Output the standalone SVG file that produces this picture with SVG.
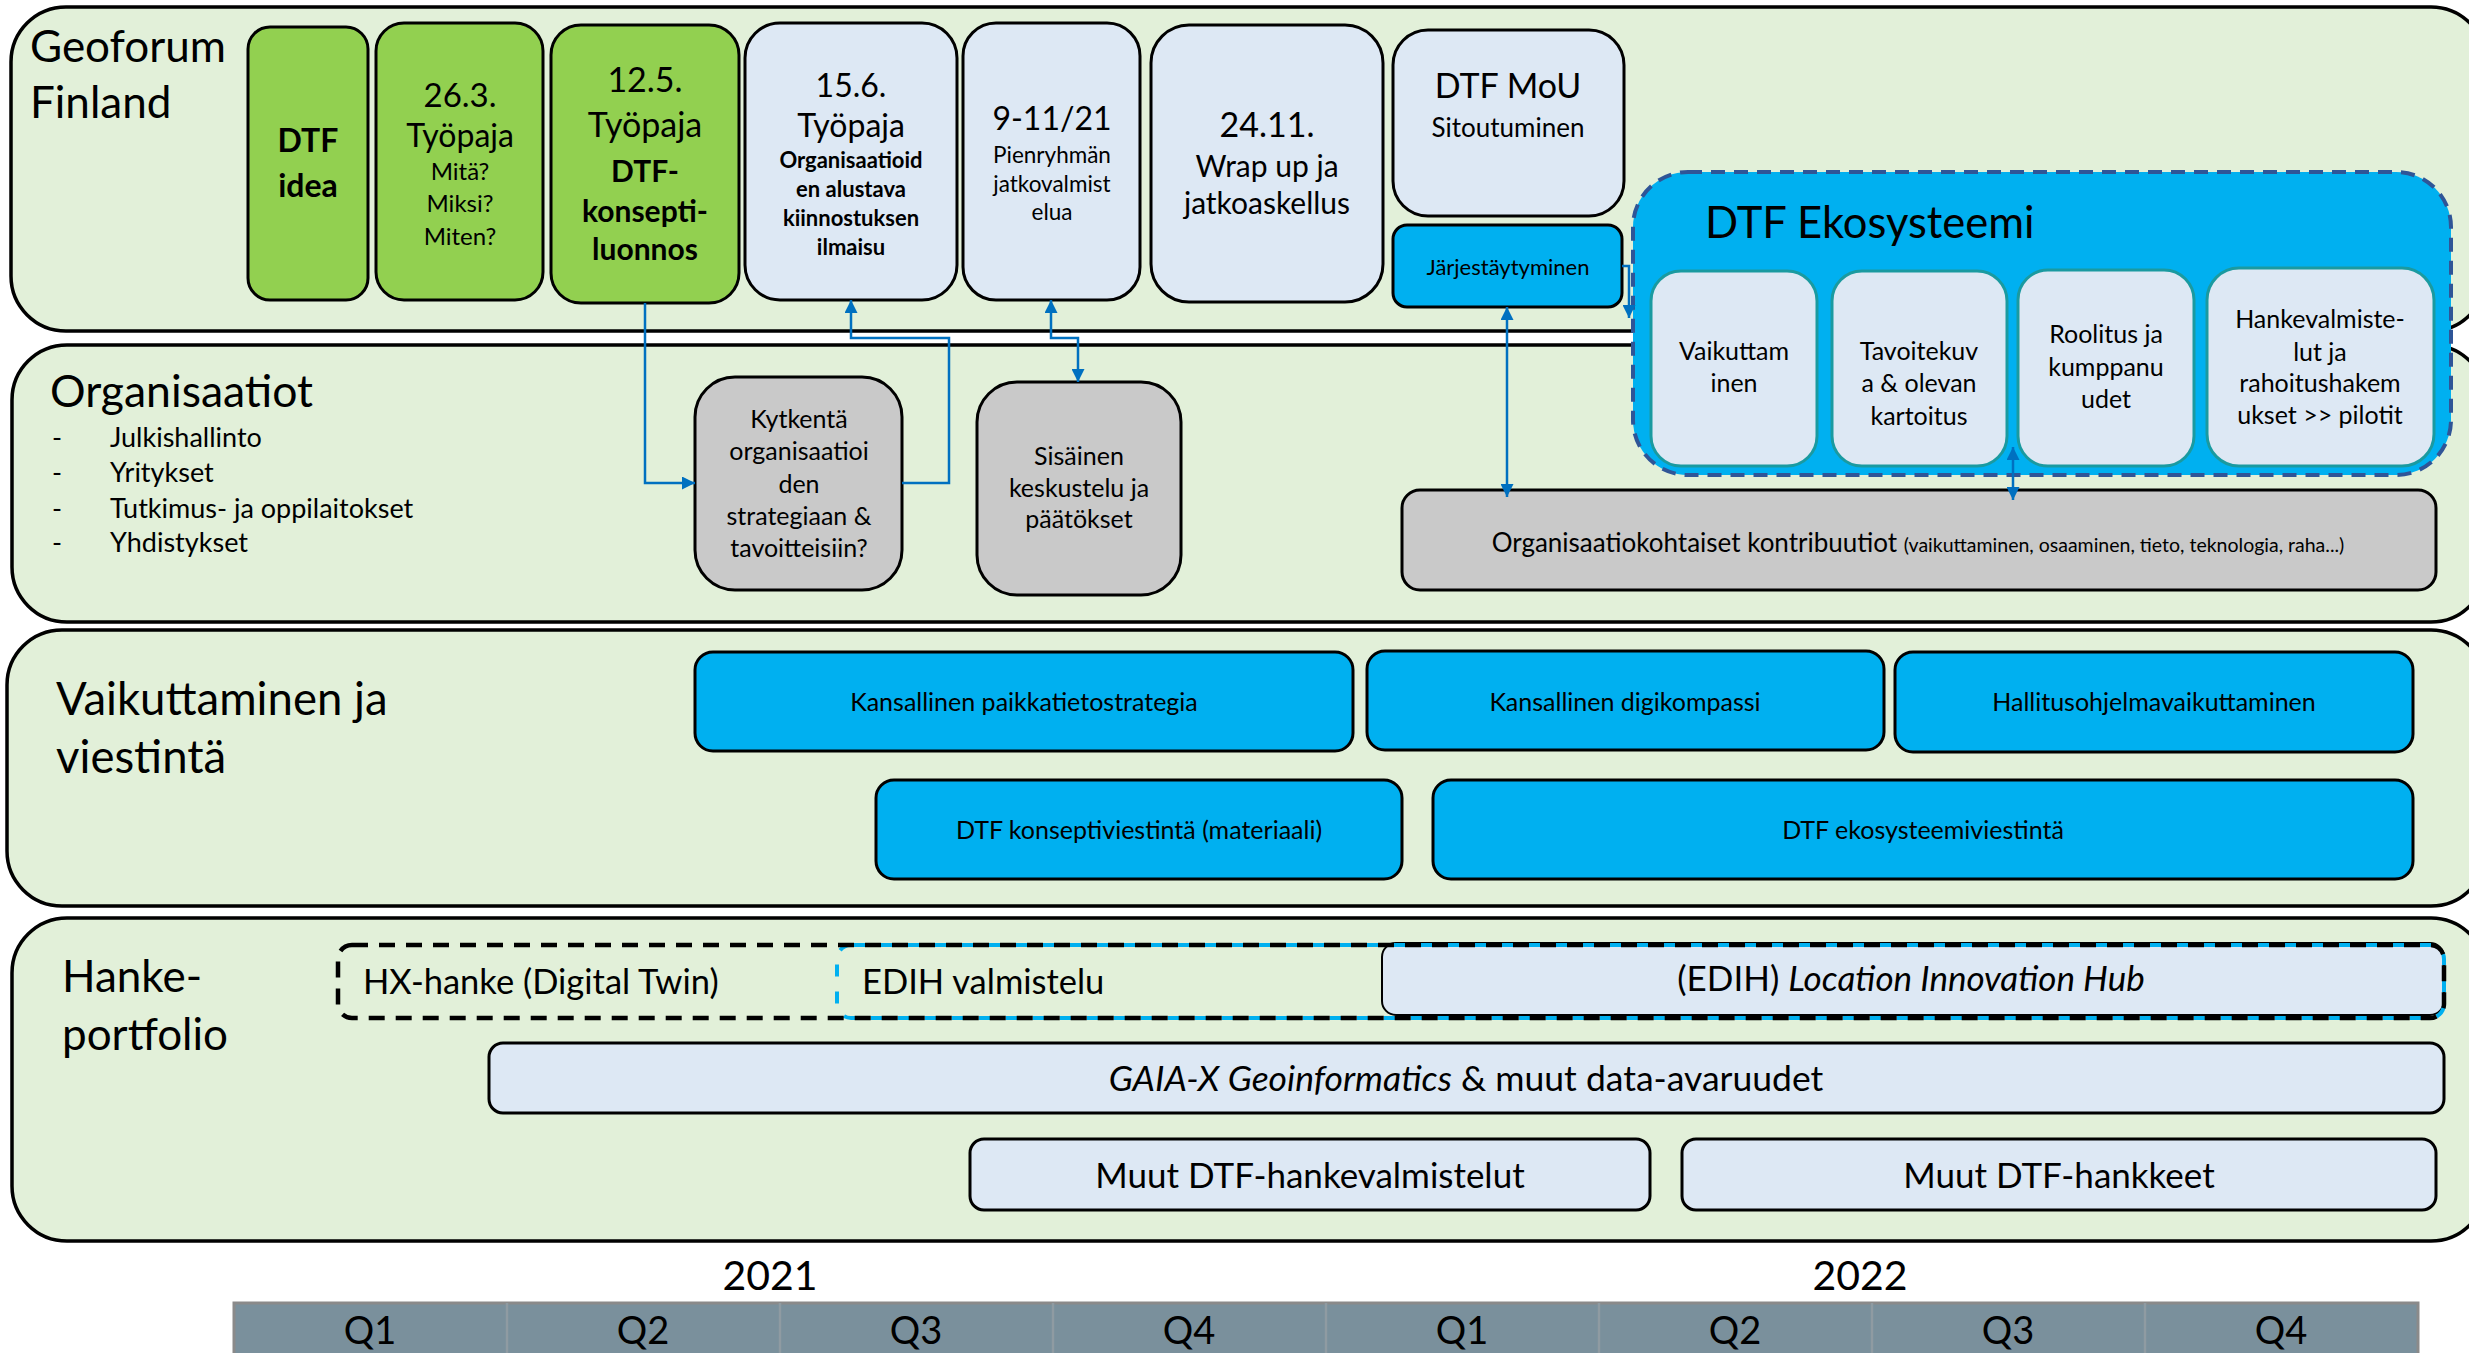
<svg xmlns="http://www.w3.org/2000/svg" width="2469" height="1353" viewBox="0 0 2469 1353">
<defs>
<style>
text{font-family:Lato,"Noto Sans","Liberation Sans",sans-serif;fill:#000}
.lane{fill:#e2f0d9;stroke:#000;stroke-width:3.5}
.green{fill:#92d050;stroke:#000;stroke-width:3}
.lblue{fill:#dde8f4;stroke:#000;stroke-width:3}
.gray{fill:#c9c9c9;stroke:#000;stroke-width:3}
.cyan{fill:#00b0f0;stroke:#000;stroke-width:3}
.inner{fill:#dde8f4;stroke:#1a9aa0;stroke-width:3}
.conn{fill:none;stroke:#0070c0;stroke-width:2.5}
.m{text-anchor:middle}
.b{font-weight:bold}
.i{font-style:italic}
</style>
<marker id="ah" viewBox="0 0 10 10" refX="10" refY="5" markerWidth="14" markerHeight="13" orient="auto-start-reverse" markerUnits="userSpaceOnUse"><path d="M0,0 L10,5 L0,10 z" fill="#0070c0"/></marker>
</defs>
<rect width="2469" height="1353" fill="#fff"/>

<g id="lanes">
<rect class="lane" x="11" y="7" width="2475" height="324" rx="55"/>
<rect class="lane" x="12" y="345" width="2474" height="277" rx="55"/>
<rect class="lane" x="7" y="630" width="2479" height="276" rx="55"/>
<rect class="lane" x="12" y="918" width="2474" height="323" rx="55"/>
<text x="30" y="62" font-size="44">Geoforum</text>
<text x="30" y="118" font-size="44">Finland</text>
<text x="50" y="407" font-size="44.5">Organisaatiot</text>
<g font-size="27">
<text x="52" y="447">-</text><text x="110" y="447">Julkishallinto</text>
<text x="52" y="482">-</text><text x="110" y="482">Yritykset</text>
<text x="52" y="518">-</text><text x="110" y="518">Tutkimus- ja oppilaitokset</text>
<text x="52" y="552">-</text><text x="110" y="552">Yhdistykset</text>
</g>
<text x="56" y="715" font-size="45.5">Vaikuttaminen ja</text>
<text x="56" y="773" font-size="45.5">viestintä</text>
<text x="62" y="992" font-size="44">Hanke-</text>
<text x="62" y="1050" font-size="44">portfolio</text>
</g>

<g id="n-dtf-idea">
<rect class="green" x="248" y="27" width="120" height="273" rx="22"/>
<text class="m b" x="308" y="152" font-size="32">DTF</text>
<text class="m b" x="308" y="197" font-size="32">idea</text>
</g>
<g id="n-263">
<rect class="green" x="376" y="23" width="167" height="277" rx="28"/>
<text class="m" x="460" y="107" font-size="33">26.3.</text>
<text class="m" x="460" y="147" font-size="32">Työpaja</text>
<text class="m" x="460" y="180" font-size="24">Mitä?</text>
<text class="m" x="460" y="212" font-size="24">Miksi?</text>
<text class="m" x="460" y="245" font-size="24">Miten?</text>
</g>
<g id="n-125">
<rect class="green" x="551" y="25" width="188" height="278" rx="30"/>
<text class="m" x="645" y="92" font-size="34">12.5.</text>
<text class="m" x="645" y="137" font-size="34">Työpaja</text>
<text class="m b" x="645" y="182" font-size="30">DTF-</text>
<text class="m b" x="645" y="222" font-size="30">konsepti-</text>
<text class="m b" x="645" y="260" font-size="30">luonnos</text>
</g>
<g id="n-156">
<rect class="lblue" x="745" y="23" width="212" height="277" rx="35"/>
<text class="m" x="851" y="97" font-size="32">15.6.</text>
<text class="m" x="851" y="137" font-size="32">Työpaja</text>
<g class="b" font-size="22">
<text class="m" x="851" y="168">Organisaatioid</text>
<text class="m" x="851" y="197">en alustava</text>
<text class="m" x="851" y="226">kiinnostuksen</text>
<text class="m" x="851" y="255">ilmaisu</text>
</g>
</g>
<g id="n-911">
<rect class="lblue" x="963" y="23" width="177" height="277" rx="33"/>
<text class="m" x="1052" y="130" font-size="32">9-11/21</text>
<text class="m" x="1052" y="163" font-size="22.5">Pienryhmän</text>
<text class="m" x="1052" y="192" font-size="22.5">jatkovalmist</text>
<text class="m" x="1052" y="220" font-size="22.5">elua</text>
</g>
<g id="n-2411">
<rect class="lblue" x="1151" y="25" width="232" height="277" rx="38"/>
<text class="m" x="1267" y="137" font-size="34">24.11.</text>
<text class="m" x="1267" y="177" font-size="30">Wrap up ja</text>
<text class="m" x="1267" y="214" font-size="30">jatkoaskellus</text>
</g>
<g id="n-mou">
<rect class="lblue" x="1393" y="30" width="231" height="186" rx="35"/>
<text class="m" x="1508" y="98" font-size="34">DTF MoU</text>
<text class="m" x="1508" y="137" font-size="26">Sitoutuminen</text>
</g>
<g id="n-jarj">
<rect class="cyan" x="1393" y="225" width="229" height="82" rx="14"/>
<text class="m" x="1508" y="275" font-size="22">Järjestäytyminen</text>
</g>

<g id="n-kytkenta">
<rect class="gray" x="695" y="377" width="207" height="213" rx="40"/>
<g font-size="25">
<text class="m" x="799" y="428">Kytkentä</text>
<text class="m" x="799" y="460">organisaatioi</text>
<text class="m" x="799" y="493">den</text>
<text class="m" x="799" y="525">strategiaan &amp;</text>
<text class="m" x="799" y="557">tavoitteisiin?</text>
</g>
</g>
<g id="n-sisainen">
<rect class="gray" x="977" y="382" width="204" height="213" rx="40"/>
<g font-size="25">
<text class="m" x="1079" y="465">Sisäinen</text>
<text class="m" x="1079" y="497">keskustelu ja</text>
<text class="m" x="1079" y="528">päätökset</text>
</g>
</g>
<g id="n-kontribuutiot">
<rect class="gray" x="1402" y="490" width="1034" height="100" rx="18"/>
<text class="m" x="1918" y="552" font-size="26">Organisaatiokohtaiset kontribuutiot <tspan font-size="19.5">(vaikuttaminen, osaaminen, tieto, teknologia, raha...)</tspan></text>
</g>

<g id="n-ekosysteemi">
<rect x="1633" y="172" width="818" height="303" rx="55" fill="#00b0f0" stroke="#2f5597" stroke-width="4" stroke-dasharray="14 9"/>
<text x="1705" y="238" font-size="43.5">DTF Ekosysteemi</text>
<g font-size="25">
<rect class="inner" x="1651" y="271" width="166" height="195" rx="30"/>
<text class="m" x="1734" y="360">Vaikuttam</text>
<text class="m" x="1734" y="392">inen</text>
<rect class="inner" x="1832" y="271" width="175" height="195" rx="30"/>
<text class="m" x="1919" y="360">Tavoitekuv</text>
<text class="m" x="1919" y="392">a &amp; olevan</text>
<text class="m" x="1919" y="425">kartoitus</text>
<rect class="inner" x="2018" y="270" width="176" height="196" rx="30"/>
<text class="m" x="2106" y="343">Roolitus ja</text>
<text class="m" x="2106" y="376">kumppanu</text>
<text class="m" x="2106" y="408">udet</text>
<rect class="inner" x="2207" y="268" width="227" height="198" rx="32"/>
<text class="m" x="2320" y="328">Hankevalmiste-</text>
<text class="m" x="2320" y="361">lut ja</text>
<text class="m" x="2320" y="392">rahoitushakem</text>
<text class="m" x="2320" y="424">ukset &gt;&gt; pilotit</text>
</g>
</g>

<g id="n-paikkatieto">
<rect class="cyan" x="695" y="652" width="658" height="99" rx="18"/>
<text class="m" x="1024" y="711" font-size="25">Kansallinen paikkatietostrategia</text>
</g>
<g id="n-digikompassi">
<rect class="cyan" x="1367" y="651" width="517" height="99" rx="18"/>
<text class="m" x="1625" y="711" font-size="25">Kansallinen digikompassi</text>
</g>
<g id="n-hallitus">
<rect class="cyan" x="1895" y="652" width="518" height="100" rx="18"/>
<text class="m" x="2154" y="711" font-size="25">Hallitusohjelmavaikuttaminen</text>
</g>
<g id="n-konseptiviestinta">
<rect class="cyan" x="876" y="780" width="526" height="99" rx="18"/>
<text class="m" x="1139" y="839" font-size="25">DTF konseptiviestintä (materiaali)</text>
</g>
<g id="n-ekoviestinta">
<rect class="cyan" x="1433" y="780" width="980" height="99" rx="18"/>
<text class="m" x="1923" y="839" font-size="25">DTF ekosysteemiviestintä</text>
</g>

<g id="n-lih">
<rect x="1382" y="943" width="1062" height="72" rx="14" fill="#dde8f4" stroke="#000" stroke-width="2"/>
<text class="m" x="1911" y="991" font-size="35">(EDIH) <tspan class="i">Location Innovation Hub</tspan></text>
</g>
<g id="n-edih">
<rect x="837" y="945" width="1607" height="73" rx="14" fill="none" stroke="#00b0f0" stroke-width="4" stroke-dasharray="12 15" stroke-dashoffset="-2"/>
<text x="862" y="994" font-size="34.5">EDIH valmistelu</text>
</g>
<g id="n-hx">
<rect x="338" y="945" width="2106" height="73" rx="14" fill="none" stroke="#000" stroke-width="4.5" stroke-dasharray="16 11"/>
<text x="363" y="994" font-size="34.5">HX-hanke (Digital Twin)</text>
</g>
<g id="n-gaia">
<rect class="lblue" x="489" y="1043" width="1955" height="70" rx="14"/>
<text class="m" x="1466" y="1091" font-size="35.5"><tspan class="i">GAIA-X Geoinformatics</tspan> &amp; muut data-avaruudet</text>
</g>
<g id="n-muut-valm">
<rect class="lblue" x="970" y="1139" width="680" height="71" rx="14"/>
<text class="m" x="1310" y="1188" font-size="35">Muut DTF-hankevalmistelut</text>
</g>
<g id="n-muut-hank">
<rect class="lblue" x="1682" y="1139" width="754" height="71" rx="14"/>
<text class="m" x="2059" y="1188" font-size="35">Muut DTF-hankkeet</text>
</g>

<g id="timeline">
<text class="m" x="770" y="1290" font-size="41">2021</text>
<text class="m" x="1860" y="1290" font-size="41">2022</text>
<rect x="234" y="1303" width="2184" height="60" fill="#7a909c" stroke="#8a8a8a" stroke-width="3"/>
<g stroke="#8f9ba2" stroke-width="2.5">
<line x1="507" y1="1303" x2="507" y2="1353"/>
<line x1="780" y1="1303" x2="780" y2="1353"/>
<line x1="1053" y1="1303" x2="1053" y2="1353"/>
<line x1="1326" y1="1303" x2="1326" y2="1353"/>
<line x1="1599" y1="1303" x2="1599" y2="1353"/>
<line x1="1872" y1="1303" x2="1872" y2="1353"/>
<line x1="2145" y1="1303" x2="2145" y2="1353"/>
</g>
<g font-size="38">
<text class="m" x="370" y="1344">Q1</text>
<text class="m" x="643" y="1344">Q2</text>
<text class="m" x="916" y="1344">Q3</text>
<text class="m" x="1189" y="1344">Q4</text>
<text class="m" x="1462" y="1344">Q1</text>
<text class="m" x="1735" y="1344">Q2</text>
<text class="m" x="2008" y="1344">Q3</text>
<text class="m" x="2281" y="1344">Q4</text>
</g>
</g>

<g id="connectors">
<path class="conn" d="M645,303 V483 H695" marker-end="url(#ah)"/>
<path class="conn" d="M902,483 H949 V338 H851 V300" marker-end="url(#ah)"/>
<path class="conn" d="M1051,300 V338 H1078 V382" marker-start="url(#ah)" marker-end="url(#ah)"/>
<path class="conn" d="M1507,307 V497" marker-start="url(#ah)" marker-end="url(#ah)"/>
<path class="conn" d="M1622,266 H1629 V318" marker-end="url(#ah)"/>
<path class="conn" d="M2013,447 V500" marker-start="url(#ah)" marker-end="url(#ah)"/>
</g>
</svg>
